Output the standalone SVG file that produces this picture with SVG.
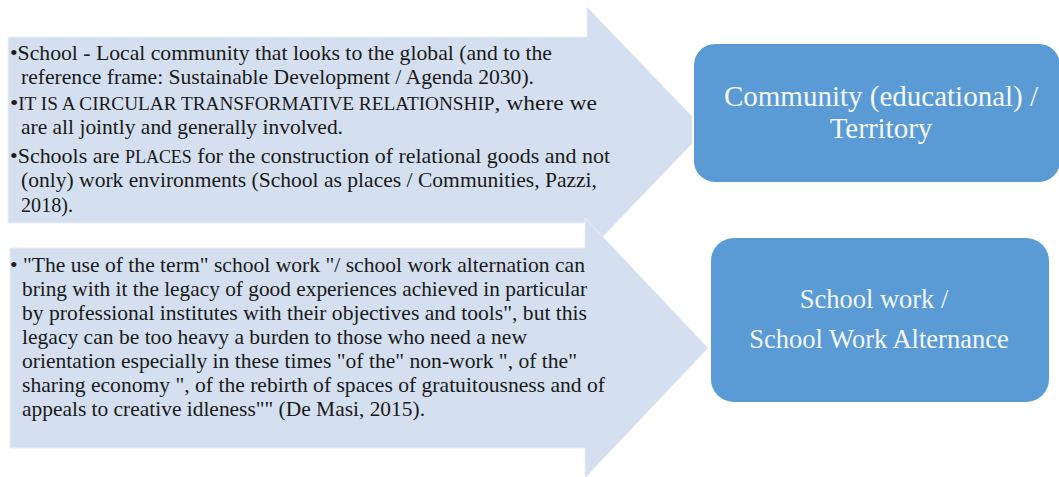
<svg xmlns="http://www.w3.org/2000/svg" width="1059" height="477" viewBox="0 0 1059 477">
<style>
.arrow{fill:#D4DFEF;stroke:#E8EEF7;stroke-width:1}
.t{font-family:"Liberation Serif","Times New Roman",serif;font-size:22px;fill:#1a1a1a}
.sc{font-size:18px}
.box{fill:#5B9BD5;stroke:#FFFFFF;stroke-width:2}
.bt{font-family:"Liberation Serif","Times New Roman",serif;fill:#F4F7FB;text-anchor:middle}
</style>
<rect width="1059" height="477" fill="#FFFFFF"/>
<g id="connectors">
<path id="arrow1" class="arrow" d="M8,37 H587 V7 L705,130 L587,253 V223 H8 Z"/>
<path id="arrow2" class="arrow" d="M10,248 H585 V218 L708,348 L585,478 V448 H10 Z"/>
</g>
<g id="text-top">
<text class="t" x="10" y="60" textLength="542" lengthAdjust="spacingAndGlyphs">•School - Local community that looks to the global (and to the</text>
<text class="t" x="21" y="84" textLength="513" lengthAdjust="spacingAndGlyphs">reference frame:  Sustainable Development  / Agenda 2030).</text>
<text class="t" x="10" y="110" textLength="587" lengthAdjust="spacingAndGlyphs">•<tspan class="sc">IT IS A CIRCULAR TRANSFORMATIVE  RELATIONSHIP</tspan>,  where we</text>
<text class="t" x="21" y="134" textLength="322" lengthAdjust="spacingAndGlyphs">are all jointly  and generally  involved.</text>
<text class="t" x="10" y="163" textLength="600" lengthAdjust="spacingAndGlyphs">•Schools are <tspan class="sc">PLACES</tspan> for the construction of relational  goods and not</text>
<text class="t" x="21" y="187" textLength="576" lengthAdjust="spacingAndGlyphs">(only) work environments (School as places / Communities,  Pazzi,</text>
<text class="t" x="21" y="212" textLength="52" lengthAdjust="spacingAndGlyphs">2018).</text>
</g>
<g id="text-bottom">
<text class="t" x="10" y="272" textLength="575" lengthAdjust="spacingAndGlyphs">• "The use of the term" school work "/ school work alternation  can</text>
<text class="t" x="22" y="296" textLength="565" lengthAdjust="spacingAndGlyphs">bring with it the legacy of good experiences achieved in particular</text>
<text class="t" x="22" y="320" textLength="565" lengthAdjust="spacingAndGlyphs">by professional institutes with their objectives and tools", but this</text>
<text class="t" x="22" y="344" textLength="505" lengthAdjust="spacingAndGlyphs">legacy can be too heavy a burden to those who need a new</text>
<text class="t" x="22" y="368" textLength="555" lengthAdjust="spacingAndGlyphs">orientation especially in these times "of the" non-work ", of the"</text>
<text class="t" x="22" y="392" textLength="583" lengthAdjust="spacingAndGlyphs">sharing economy ", of the rebirth of spaces of gratuitousness and of</text>
<text class="t" x="22" y="416" textLength="403" lengthAdjust="spacingAndGlyphs">appeals to creative idleness"" (De Masi, 2015).</text>
</g>
<g id="node-community">
<rect class="box" x="693" y="43" width="368" height="140" rx="22"/>
<text class="bt" x="881" y="106" font-size="29">Community (educational) /</text>
<text class="bt" x="881" y="138" font-size="29">Territory</text>
</g>
<g id="node-schoolwork">
<rect class="box" x="710" y="237" width="340" height="166" rx="24"/>
<text class="bt" x="874" y="308" font-size="26.5">School work /</text>
<text class="bt" x="879" y="348" font-size="26.5">School Work Alternance</text>
</g>
</svg>
